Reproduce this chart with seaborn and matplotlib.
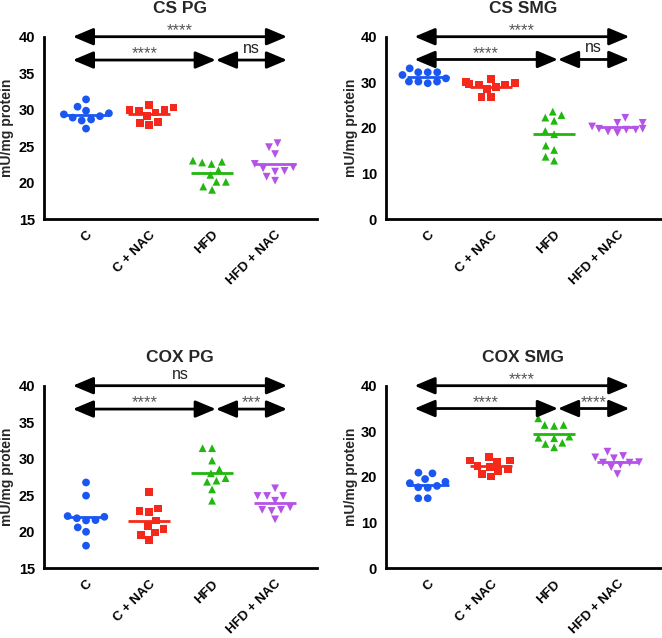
import numpy as np
import pandas as pd
import matplotlib
matplotlib.use("Agg")
import matplotlib.pyplot as plt
import seaborn as sns

sns.set_style("white")
plt.rcParams['font.family'] = ['Liberation Sans', 'DejaVu Sans']

groups = ["C", "C + NAC", "HFD", "HFD + NAC"]
colors = ["#1A57F0", "#F5291B", "#21B70F", "#B552E8"]
markers = ["o", "s", "^", "v"]

titles = ["CS PG", "CS SMG", "COX PG", "COX SMG"]

cs_pg = {
    "C": [31.4, 30.4, 29.85, 29.35, 29.1, 29.5, 28.65, 28.5, 28.9, 27.4],
    "C + NAC": [29.95, 30.3, 29.8, 30.6, 29.95, 29.1, 29.6, 27.9, 28.35, 28.2],
    "HFD": [22.55, 22.85, 23.0, 22.75, 21.05, 21.7, 20.1, 19.0, 19.45, 20.1],
    "HFD + NAC": [24.85, 25.4, 23.9, 22.55, 21.5, 22.1, 21.95, 21.6, 20.25, 20.8],
}
cs_smg = {
    "C": [32.2, 33.05, 32.2, 32.2, 31.6, 30.15, 30.85, 30.15, 30.15, 29.8],
    "C + NAC": [30.7, 30.0, 29.8, 29.6, 29.5, 29.5, 29.0, 28.5, 26.7, 26.7],
    "HFD": [23.55, 21.55, 22.25, 22.8, 18.6, 19.3, 15.15, 16.1, 12.8, 13.65],
    "HFD + NAC": [22.2, 21.1, 21.1, 20.3, 19.8, 19.8, 19.6, 19.6, 19.2, 18.9],
}
cox_pg = {
    "C": [26.75, 24.95, 22.15, 21.55, 21.6, 21.85, 22.05, 20.6, 20.0, 18.1],
    "C + NAC": [25.4, 22.85, 23.2, 22.75, 21.55, 20.8, 20.35, 19.9, 19.55, 18.9],
    "HFD": [31.45, 31.45, 29.75, 28.55, 27.35, 28.0, 27.0, 26.85, 25.8, 24.25],
    "HFD + NAC": [24.9, 24.9, 24.9, 25.95, 24.25, 23.35, 23.0, 23.0, 22.85, 21.7],
}
cox_smg = {
    "C": [20.95, 20.8, 18.95, 19.55, 18.65, 17.75, 18.05, 17.65, 15.35, 15.35],
    "C + NAC": [23.6, 24.3, 23.35, 23.6, 22.4, 22.15, 21.35, 21.7, 20.65, 20.1],
    "HFD": [32.85, 31.2, 31.4, 31.4, 28.5, 28.6, 28.85, 26.5, 27.25, 27.5],
    "HFD + NAC": [25.55, 24.3, 24.6, 24.1, 23.25, 23.15, 23.15, 22.65, 22.15, 20.65],
}
panel_data = [cs_pg, cs_smg, cox_pg, cox_smg]

yticks_list = [[15, 20, 25, 30, 35, 40], [0, 10, 20, 30, 40],
               [15, 20, 25, 30, 35, 40], [0, 10, 20, 30, 40]]
# significance labels: (overall C vs HFD+NAC, C vs HFD, HFD vs HFD+NAC)
sig_labels = [["****", "****", "ns"], ["****", "****", "ns"],
              ["ns", "****", "***"], ["****", "****", "****"]]
arrow_levels = [[40, 36.8], [40, 35], [40, 36.8], [40, 35]]

W, H = 662, 638
fig = plt.figure(figsize=(W / 100, H / 100), dpi=100)
# axes boxes in pixels: left, top, right, bottom
boxes = [(44, 36.7, 316.7, 219), (386, 36.7, 661, 219),
         (44, 385.7, 316.7, 568.3), (386, 385.7, 661, 568.3)]
xlims = [(-0.667, 3.66), (-0.66, 3.69), (-0.667, 3.66), (-0.66, 3.69)]
ylabel_offsets_px = [36.5, 35, 36.5, 35]

for i in range(4):
    l, t, r, b = boxes[i]
    ax = fig.add_axes([l / W, 1 - b / H, (r - l) / W, (b - t) / H])
    d = panel_data[i]
    df = pd.DataFrame([(g, v) for g in groups for v in d[g]], columns=["group", "value"])
    for g, c, m in zip(groups, colors, markers):
        sub = df[df.group == g]
        sns.swarmplot(data=sub, x="group", y="value", order=groups, color=c,
                      marker=m, size=5.6, linewidth=0.9, edgecolor="none",
                      ax=ax, zorder=3, warn_thresh=1)
    means = df.groupby("group")["value"].mean()
    for k, g in enumerate(groups):
        ax.hlines(means[g], k - 0.33, k + 0.33, color=colors[k], lw=2, zorder=4)

    yt = yticks_list[i]
    ax.set_ylim(yt[0], yt[-1])
    ax.set_yticks(yt)
    ax.set_xlim(*xlims[i])
    ax.set_xlabel("")
    ax.set_ylabel("mU/mg protein", fontsize=10, fontweight="bold", va="center")
    ax.yaxis.set_label_coords(-ylabel_offsets_px[i] / (r - l), 0.5)
    ax.set_title(titles[i], fontsize=12.5, fontweight="bold", pad=17)
    for s in ["top", "right"]:
        ax.spines[s].set_visible(False)
    for s in ["left", "bottom"]:
        ax.spines[s].set_linewidth(2)
        ax.spines[s].set_color("black")
    ax.tick_params(axis="both", direction="out", length=5, width=2, colors="black",
                   labelsize=10.5)
    ax.tick_params(axis="y", pad=1.5)
    ax.tick_params(axis="x", pad=2)
    ax.set_xticks(range(len(groups)))
    ax.set_xticklabels(groups, rotation=45, ha="right", rotation_mode="anchor",
                       fontweight="bold", fontsize=9.5)
    for lab in ax.get_yticklabels():
        lab.set_fontweight("bold")
    ax.grid(False)

    # significance arrows
    x0 = 0 - 0.21
    xm = 2 + 0.06
    x1 = 3 + 0.19
    top_y, mid_y = arrow_levels[i]
    spans = [(x0, x1, top_y), (x0, xm, mid_y), (xm, x1, mid_y)]
    for (a, bb, yy), lab in zip(spans, sig_labels[i]):
        ax.annotate("", xy=(bb, yy), xytext=(a, yy),
                    arrowprops=dict(arrowstyle="<|-|>,head_length=0.62,head_width=0.26",
                                    mutation_scale=20, lw=2, color="black",
                                    shrinkA=0, shrinkB=0),
                    annotation_clip=False)
        if lab == "ns":
            ax.annotate(lab, xy=((a + bb) / 2, yy), xytext=(0, 3), textcoords="offset points",
                        ha="center", va="bottom", fontsize=11.5, color="#222222",
                        annotation_clip=False)
        else:
            ax.annotate(lab, xy=((a + bb) / 2, yy), xytext=(0, -1), textcoords="offset points",
                        ha="center", va="bottom", fontsize=12, color="#555555",
                        annotation_clip=False)

fig.savefig("out.png", dpi=100)
